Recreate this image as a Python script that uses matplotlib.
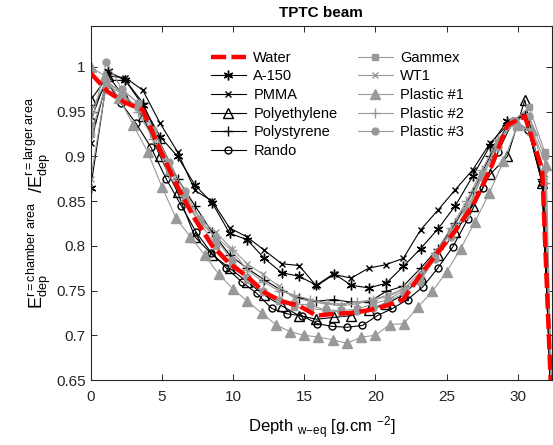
import matplotlib
matplotlib.use("Agg")
import matplotlib.pyplot as plt
from matplotlib.ticker import FormatStrFormatter

plt.rcParams['font.family'] = ['Liberation Sans', 'DejaVu Sans']
plt.rcParams['mathtext.fontset'] = 'custom'
plt.rcParams['mathtext.rm'] = 'Liberation Sans'
plt.rcParams['mathtext.it'] = 'Liberation Sans'

# depth grids (water-equivalent, g/cm2) -- each material is sampled differently
depth_a = [0, 1.22, 2.44, 3.66, 4.88, 6.10, 7.32, 8.54, 9.76, 10.98, 12.20, 13.42,
           14.64, 15.86, 17.08, 18.30, 19.52, 20.74, 21.96, 23.18, 24.40, 25.62,
           26.84, 28.06, 29.28, 30.50, 31.72, 32.94]
depth_rando = [0, 1.06, 2.12, 3.18, 4.24, 5.30, 6.36, 7.42, 8.48, 9.54, 10.60, 11.66,
               12.72, 13.78, 14.84, 15.90, 16.96, 18.02, 19.08, 20.14, 21.20, 22.26,
               23.32, 24.38, 25.44, 26.50, 27.56, 28.62, 29.68, 30.74, 31.80, 32.86]
depth_p1 = [0, 1, 2, 3, 4, 5, 6, 7, 8, 9, 10, 11, 12, 13, 14, 15, 16, 17, 18, 19, 20,
            21, 22, 23, 24, 25, 26, 27, 28, 29, 30, 31, 32, 33]
depth_g = [0, 1.1, 2.2, 3.3, 4.4, 5.5, 6.6, 7.7, 8.8, 9.9, 11.0, 12.1, 13.2, 14.3,
           15.4, 16.5, 17.6, 18.7, 19.8, 20.9, 22.0, 23.1, 24.2, 25.3, 26.4, 27.5,
           28.6, 29.7, 30.8, 31.9, 33.0]

water = [0.993, 0.972, 0.960, 0.952, 0.907, 0.866, 0.830, 0.800, 0.780, 0.766, 0.748,
         0.738, 0.733, 0.722, 0.724, 0.725, 0.728, 0.733, 0.740, 0.768, 0.793, 0.817,
         0.845, 0.885, 0.935, 0.945, 0.885, 0.40]
a150 = [0.865, 0.995, 0.985, 0.957, 0.922, 0.900, 0.868, 0.848, 0.814, 0.807, 0.786,
        0.770, 0.766, 0.756, 0.769, 0.756, 0.753, 0.758, 0.777, 0.797, 0.819, 0.845,
        0.878, 0.912, 0.940, 0.945, 0.870, 0.40]
pmma = [0.915, 0.990, 0.988, 0.974, 0.937, 0.905, 0.862, 0.850, 0.820, 0.810, 0.795,
        0.780, 0.778, 0.755, 0.768, 0.764, 0.775, 0.779, 0.786, 0.818, 0.840, 0.863,
        0.885, 0.915, 0.935, 0.945, 0.870, 0.40]
polyethylene = [0.963, 0.990, 0.965, 0.945, 0.900, 0.860, 0.810, 0.790, 0.775, 0.760,
                0.745, 0.733, 0.722, 0.718, 0.720, 0.722, 0.728, 0.735, 0.745, 0.765,
                0.790, 0.815, 0.845, 0.880, 0.900, 0.963, 0.870, 0.40]
polystyrene = [0.950, 0.985, 0.985, 0.960, 0.915, 0.875, 0.845, 0.815, 0.790, 0.775,
               0.762, 0.750, 0.742, 0.738, 0.740, 0.737, 0.737, 0.749, 0.755, 0.775,
               0.797, 0.825, 0.860, 0.900, 0.935, 0.945, 0.875, 0.40]
rando = [0.940, 0.985, 0.960, 0.937, 0.910, 0.875, 0.845, 0.815, 0.792, 0.775, 0.760,
         0.747, 0.730, 0.724, 0.722, 0.713, 0.710, 0.709, 0.711, 0.722, 0.730, 0.740,
         0.754, 0.775, 0.799, 0.830, 0.865, 0.905, 0.940, 0.930, 0.870, 0.40]
gammex = [0.925, 0.980, 0.970, 0.955, 0.925, 0.885, 0.855, 0.825, 0.800, 0.780, 0.762,
          0.748, 0.738, 0.732, 0.730, 0.728, 0.728, 0.729, 0.735, 0.740, 0.750, 0.762,
          0.788, 0.815, 0.835, 0.879, 0.915, 0.940, 0.955, 0.905, 0.30]
wt1 = [0.875, 0.980, 0.975, 0.960, 0.930, 0.890, 0.855, 0.830, 0.815, 0.797, 0.780,
       0.768, 0.755, 0.742, 0.738, 0.735, 0.733, 0.735, 0.740, 0.745, 0.752, 0.770,
       0.790, 0.815, 0.845, 0.880, 0.915, 0.940, 0.945, 0.880, 0.30]
plastic1 = [1.000, 0.990, 0.965, 0.935, 0.905, 0.866, 0.831, 0.810, 0.790, 0.768, 0.752,
            0.738, 0.725, 0.712, 0.704, 0.700, 0.698, 0.695, 0.691, 0.698, 0.700, 0.712,
            0.713, 0.732, 0.749, 0.771, 0.797, 0.827, 0.859, 0.895, 0.935, 0.930, 0.890,
            0.20]
plastic2 = [0.950, 0.985, 0.970, 0.950, 0.920, 0.880, 0.850, 0.825, 0.810, 0.795, 0.773,
            0.760, 0.750, 0.745, 0.740, 0.736, 0.735, 0.737, 0.740, 0.743, 0.752, 0.765,
            0.792, 0.820, 0.850, 0.885, 0.920, 0.935, 0.930, 0.870, 0.30]
plastic3 = [0.935, 1.005, 0.975, 0.960, 0.930, 0.894, 0.861, 0.830, 0.808, 0.784, 0.765,
            0.749, 0.740, 0.735, 0.734, 0.728, 0.726, 0.727, 0.730, 0.738, 0.747, 0.760,
            0.785, 0.810, 0.840, 0.877, 0.910, 0.940, 0.945, 0.900, 0.30]

grey = '#999999'
ax_col = '#262626'

fig = plt.figure(figsize=(5.53, 4.45), dpi=100)
ax = fig.add_axes([0.164, 0.146, 0.834, 0.796])

kw_k = dict(color='black', lw=0.8, ms=5)
kw_g = dict(color=grey, lw=0.8, ms=5)

ax.plot(depth_a, water, color='red', lw=3.2, dashes=(3.4, 1.2), label='Water', zorder=5)
ax.plot(depth_a, a150, marker=(6, 2, 0), label='A-150', color='black', lw=0.8, ms=7)
ax.plot(depth_a, pmma, marker='x', label='PMMA', **kw_k)
ax.plot(depth_a, polyethylene, marker='^', mfc='none', label='Polyethylene',
        color='black', lw=0.8, ms=6.5)
ax.plot(depth_a, polystyrene, marker='+', label='Polystyrene', color='black', lw=0.8, ms=7)
ax.plot(depth_rando, rando, marker='o', mfc='none', label='Rando', **kw_k)
ax.plot(depth_g, gammex, marker='s', mec=grey, mfc=grey, label='Gammex', **kw_g)
ax.plot(depth_g, wt1, marker='x', label='WT1', **kw_g)
ax.plot(depth_p1, plastic1, marker='^', mec=grey, mfc=grey, label='Plastic #1',
        color=grey, lw=0.8, ms=7)
ax.plot(depth_g, plastic2, marker='+', label='Plastic #2', color=grey, lw=0.8, ms=7)
ax.plot(depth_g, plastic3, marker='o', mec=grey, mfc=grey, label='Plastic #3', **kw_g)

ax.set_xlim(0, 32.4)
ax.set_ylim(0.65, 1.046)
ax.set_xticks([0, 5, 10, 15, 20, 25, 30])
ax.set_yticks([0.65, 0.7, 0.75, 0.8, 0.85, 0.9, 0.95, 1.0])
ax.yaxis.set_major_formatter(FormatStrFormatter('%g'))
ax.tick_params(direction='in', top=True, right=True, labelsize=11, colors=ax_col,
               length=4, width=0.7)
ax.tick_params(axis='x', pad=7)
for s in ax.spines.values():
    s.set_color(ax_col)
    s.set_linewidth(0.8)

ax.set_title('TPTC beam', fontsize=11, fontweight='bold', pad=6)
ax.set_xlabel(r'Depth $_{\mathrm{w\!-\!eq}}$ [g.cm $^{-2}$]', fontsize=12, labelpad=8)
ax.set_ylabel(r'$\mathrm{E}_{\mathrm{dep}}^{\mathrm{r=chamber\ area}}$'
              r'  /$\mathrm{E}_{\mathrm{dep}}^{\mathrm{r=larger\ area}}$',
              fontsize=13, labelpad=2)

ax.legend(ncol=2, frameon=False, loc='upper left', bbox_to_anchor=(0.245, 0.95),
          fontsize=10.5, handlelength=2.4, labelspacing=0.32, columnspacing=1.4,
          handletextpad=0.5, borderpad=0)

fig.savefig('out.png', dpi=100)
